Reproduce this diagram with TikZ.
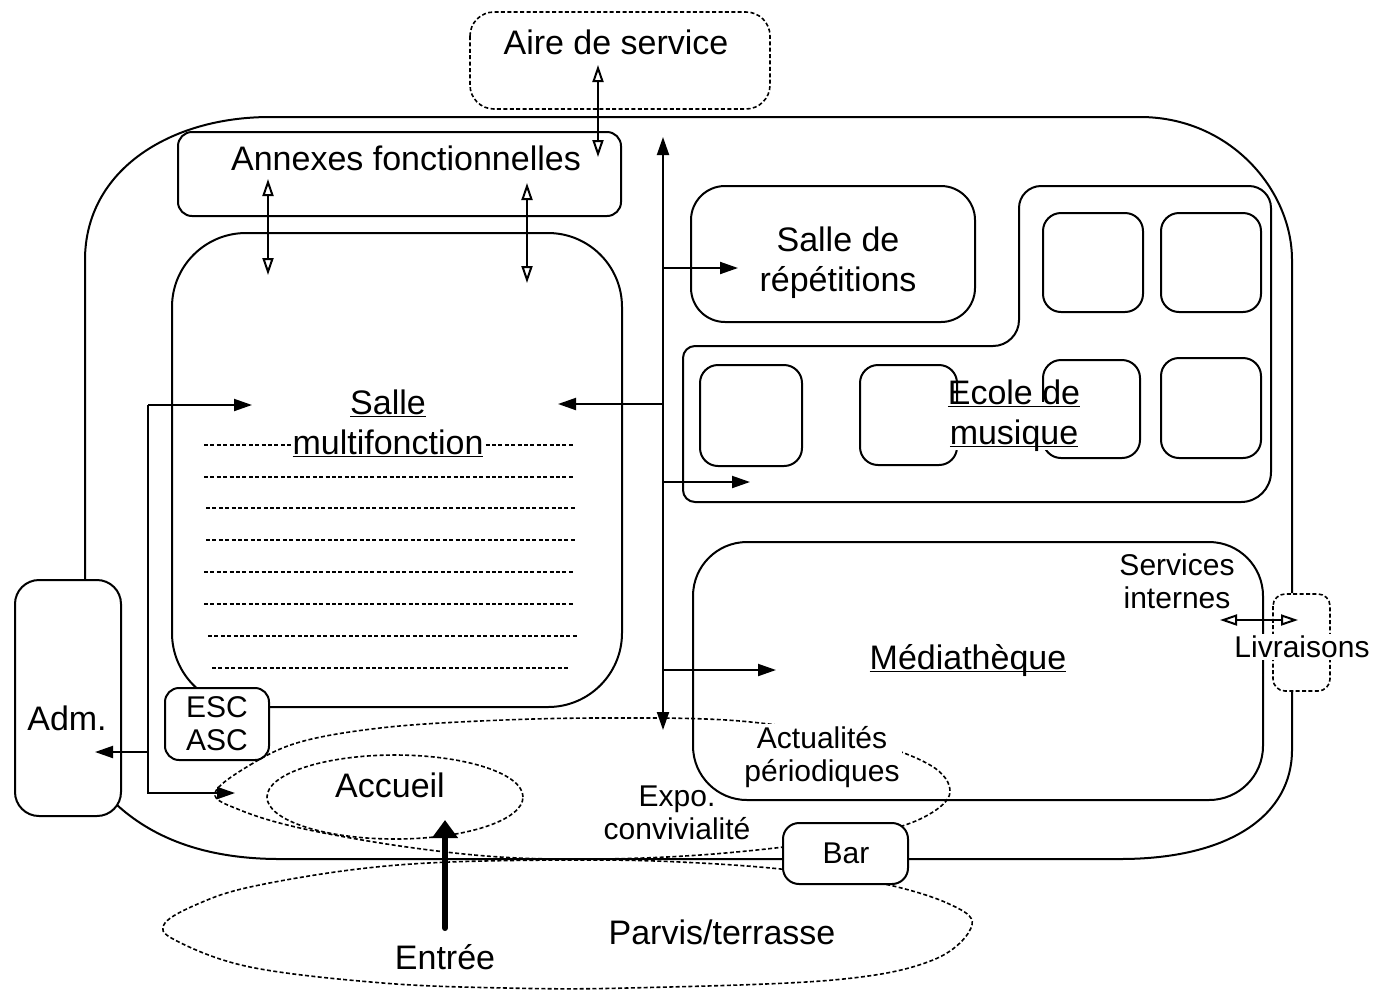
\documentclass[tikz,border=0pt]{standalone}
\usepackage{fontspec}
\setmainfont{Liberation Sans}
\usetikzlibrary{arrows.meta}
\newcommand\bigf{\fontsize{17}{20}\selectfont}
\newcommand\smf{\fontsize{15}{16.5}\selectfont}
\newcommand\myul[1]{\underline{\smash{#1}}}
\begin{document}
\begin{tikzpicture}[x=0.5pt,y=-0.5pt, line width=1pt,
  dots/.style={line width=0.8pt, dash pattern=on 2pt off 1.2pt},
  fa/.style={-{Triangle[length=9pt,width=6pt]}},
  fda/.style={{Triangle[length=9pt,width=6pt]}-{Triangle[length=9pt,width=6pt]}},
  oda/.style={{Triangle[open,length=8.5pt,width=5.5pt]}-{Triangle[open,length=8.5pt,width=5.5pt]}},
  lbl/.style={font=\bigf, inner sep=1pt, align=center},
  slbl/.style={font=\smf, inner sep=1pt, align=center},
  wlbl/.style={fill=white}
]
\useasboundingbox[fill=white] (0,0) rectangle (1375,992);

% outer building
\draw (85,580) -- (85,260) .. controls (85,170) and (170,117) .. (270,117) -- (1140,117)
  .. controls (1230,117) and (1292,190) .. (1292,260) -- (1292,593);
\draw (1292,692) -- (1292,750) .. controls (1292,815) and (1230,859) .. (1120,859)
  -- (280,859) .. controls (200,859) and (150,835) .. (117,805);

% annexes
\draw[rounded corners=7pt] (178,132) rectangle (621,216);

% salle multifonction
\draw[rounded corners=37pt] (172,233) rectangle (622,707);
\foreach \y/\a/\b in {445/204/574, 477/204/574, 508/206/576, 540/206/576,
                      572/204/574, 604/204/574, 636/208/578, 668/212/570}
  \draw[dots] (\a,\y) -- (\b,\y);

% salle de repetitions
\draw[rounded corners=17pt] (691,186) rectangle (975,322);

% ecole de musique outline
\draw (1019,260) [rounded corners=11pt] -- (1019,186) -- (1271,186)
  [rounded corners=15pt] -- (1271,502) [rounded corners=6pt] -- (683,502) -- (683,346)
  [rounded corners=13pt] -- (1019,346) -- cycle;
\foreach \a/\b/\c/\d in {1043/213/1143/312, 1161/213/1261/312, 1161/358/1261/458,
                         1043/360/1140/458, 860/365/957/465, 700/365/802/466}
  \draw[rounded corners=9pt] (\a,\b) rectangle (\c,\d);

% mediatheque
\draw[rounded corners=27pt] (693,542) rectangle (1263,800);

% dotted zones
\draw[dots] plot[smooth cycle, tension=0.6] coordinates {(215,793) (250,765) (300,742)
  (380,728) (480,721) (600,718) (740,721) (860,740) (930,765) (950,792) (928,815)
  (880,832) (800,845) (700,855) (600,859) (500,857) (400,846) (300,828) (240,810)};
\draw[dots] (395,797) ellipse [x radius=64pt, y radius=21pt];
\draw[dots] plot[smooth cycle, tension=0.6] coordinates {(880,883) (947,903) (972,925)
  (933,960) (833,980) (627,988) (507,988) (383,983) (250,967) (175,940) (165,923)
  (200,903) (250,887) (350,870) (450,862) (600,860) (700,863) (790,870)};

% boxes
\draw[rounded corners=12pt] (15,580) rectangle (121,816);
\draw[fill=white, rounded corners=7pt] (165,688) rectangle (269,760);
\draw[fill=white, rounded corners=8pt] (783,823) rectangle (908,884);
\draw[dots, fill=white, rounded corners=6pt] (1273,594) rectangle (1330,691);
\draw[dots, rounded corners=12pt] (470,12) rectangle (770,109);

% circulation coordinates
\coordinate (vtop) at (663,137);
\coordinate (vbot) at (663,730);
\coordinate (brep) at (663,268);  \coordinate (brepE) at (738,268);
\coordinate (bsal) at (663,404);  \coordinate (bsalE) at (558,404);
\coordinate (becm) at (663,482);  \coordinate (becmE) at (750,482);
\coordinate (bmed) at (663,670);  \coordinate (bmedE) at (776,670);
\coordinate (l1) at (148,405);    \coordinate (l1E) at (252,405);
\coordinate (l2) at (148,793);    \coordinate (l2E) at (235,793);
\coordinate (l3) at (148,752);    \coordinate (l3E) at (95,752);
\coordinate (as1) at (598,65);    \coordinate (as2) at (598,157);
\coordinate (an1) at (268,179);   \coordinate (an2) at (268,275);
\coordinate (an3) at (527,183);   \coordinate (an4) at (527,283);
\coordinate (lv1) at (1220,620);  \coordinate (lv2) at (1298,620);
\coordinate (en1) at (445,928);   \coordinate (en2) at (445,820);

\draw[fda] (vtop) -- (vbot);
\draw[fa] (brep) -- (brepE);
\draw[fa] (bsal) -- (bsalE);
\draw[fa] (becm) -- (becmE);
\draw[fa] (bmed) -- (bmedE);
\draw[fa] (l1) -- (l1E);
\draw[fa] (l1) -- (l2) -- (l2E);
\draw[fa] (l3) -- (l3E);
\draw[oda] (as1) -- (as2);
\draw[oda] (an1) -- (an2);
\draw[oda] (an3) -- (an4);
\draw[oda] (lv1) -- (lv2);
\draw[line width=3pt, line cap=round, -{Triangle[length=9pt,width=12.5pt]}] (en1) -- (en2);

% labels
\node[lbl] (tAire) at (616,42) {Aire de service};
\node[lbl] (tAnn) at (406,158) {Annexes fonctionnelles};
\node[lbl] (tRep) at (838,263) {Salle de\\répétitions};
\node[lbl, wlbl] (tSal) at (388,436) {\myul{Salle}\\\myul{multifonction}};
\node[lbl, wlbl] (tEcm) at (1014,426) {\myul{Ecole de}\\\myul{musique}};
\node[lbl] (tMed) at (968,671) {\myul{Médiathèque}};
\node[slbl] (tSer) at (1177,581) {Services\\internes};
\node[slbl, wlbl] (tLiv) at (1302,647) {Livraisons};
\node[lbl] (tAdm) at (67,718) {Adm.};
\node[slbl] (tEsc) at (217,724) {ESC\\ASC};
\node[slbl, wlbl] (tAct) at (822,757) {Actualités\\périodiques};
\node[slbl] (tExp) at (677,813) {Expo.\\convivialité};
\node[lbl] (tAcc) at (390,785) {Accueil};
\node[slbl] (tBar) at (846,853) {Bar};
\node[lbl] (tPar) at (722,932) {Parvis/terrasse};
\node[lbl] (tEnt) at (445,957) {Entrée};
\end{tikzpicture}
\end{document}
